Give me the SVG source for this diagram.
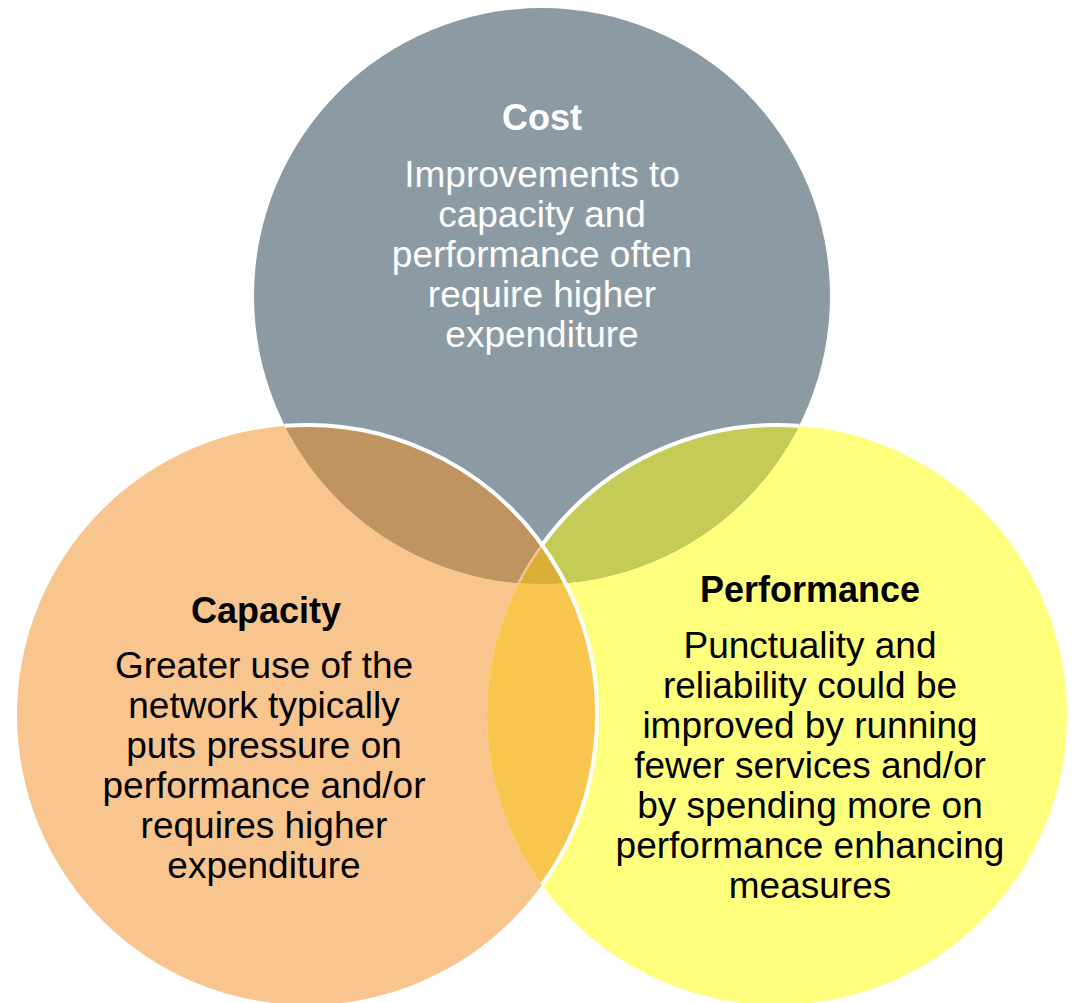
<svg xmlns="http://www.w3.org/2000/svg" width="1075" height="1003" viewBox="0 0 1075 1003">
<style>
  .t { font-family: "Liberation Sans", Arial, sans-serif; font-size: 37px; text-anchor: middle; }
  .b { font-weight: bold; font-size: 36px; }
  .w { fill: #FFFFFF; }
  .k { fill: #000000; }
  .edge { fill: none; stroke: #FFFFFF; stroke-width: 4; }
</style>
<defs>
  <clipPath id="clipA"><circle cx="307" cy="715" r="290"/></clipPath>
  <clipPath id="clipP"><circle cx="777" cy="715" r="290"/></clipPath>
</defs>
<rect width="1075" height="1003" fill="#FFFFFF"/>

<g id="capacity-circle"><circle cx="307" cy="715" r="290" fill="#F8C58F"/></g>
<g id="performance-circle"><circle cx="777" cy="715" r="290" fill="#FFFF7E"/></g>
<g id="cost-circle"><circle cx="542" cy="296" r="288" fill="#8C9AA3"/></g>

<g id="overlaps">
  <circle cx="542" cy="296" r="288" fill="#BF9461" clip-path="url(#clipA)"/>
  <circle cx="542" cy="296" r="288" fill="#C5CB57" clip-path="url(#clipP)"/>
  <circle cx="307" cy="715" r="290" fill="#F8C54E" clip-path="url(#clipP)"/>
  <g clip-path="url(#clipA)">
    <circle cx="542" cy="296" r="288" fill="#DAAE37" clip-path="url(#clipP)"/>
  </g>
</g>

<g id="connectors">
  <path d="M 542 545 A 290 290 0 0 0 518.7 583" fill="none" stroke="#F6C488" stroke-width="2.5"/>
  <path class="edge" d="M 284.9 425.8 A 290 290 0 0 1 542 885"/>
  <path class="edge" d="M 799.1 425.8 A 290 290 0 0 0 542 545"/>
</g>

<g id="cost">
  <text class="t b w" x="542" y="130">Cost</text>
  <text class="t w" x="542" y="187">Improvements to</text>
  <text class="t w" x="542" y="227">capacity and</text>
  <text class="t w" x="542" y="267">performance often</text>
  <text class="t w" x="542" y="307">require higher</text>
  <text class="t w" x="542" y="347">expenditure</text>
</g>

<g id="capacity">
  <text class="t b k" x="266" y="623">Capacity</text>
  <text class="t k" x="264" y="678">Greater use of the</text>
  <text class="t k" x="264" y="718">network typically</text>
  <text class="t k" x="264" y="758">puts pressure on</text>
  <text class="t k" x="264" y="798">performance and/or</text>
  <text class="t k" x="264" y="838">requires higher</text>
  <text class="t k" x="264" y="878">expenditure</text>
</g>

<g id="performance">
  <text class="t b k" x="810" y="602">Performance</text>
  <text class="t k" x="810" y="658">Punctuality and</text>
  <text class="t k" x="810" y="698">reliability could be</text>
  <text class="t k" x="810" y="738">improved by running</text>
  <text class="t k" x="810" y="778">fewer services and/or</text>
  <text class="t k" x="810" y="818">by spending more on</text>
  <text class="t k" x="810" y="858">performance enhancing</text>
  <text class="t k" x="810" y="898">measures</text>
</g>
</svg>
